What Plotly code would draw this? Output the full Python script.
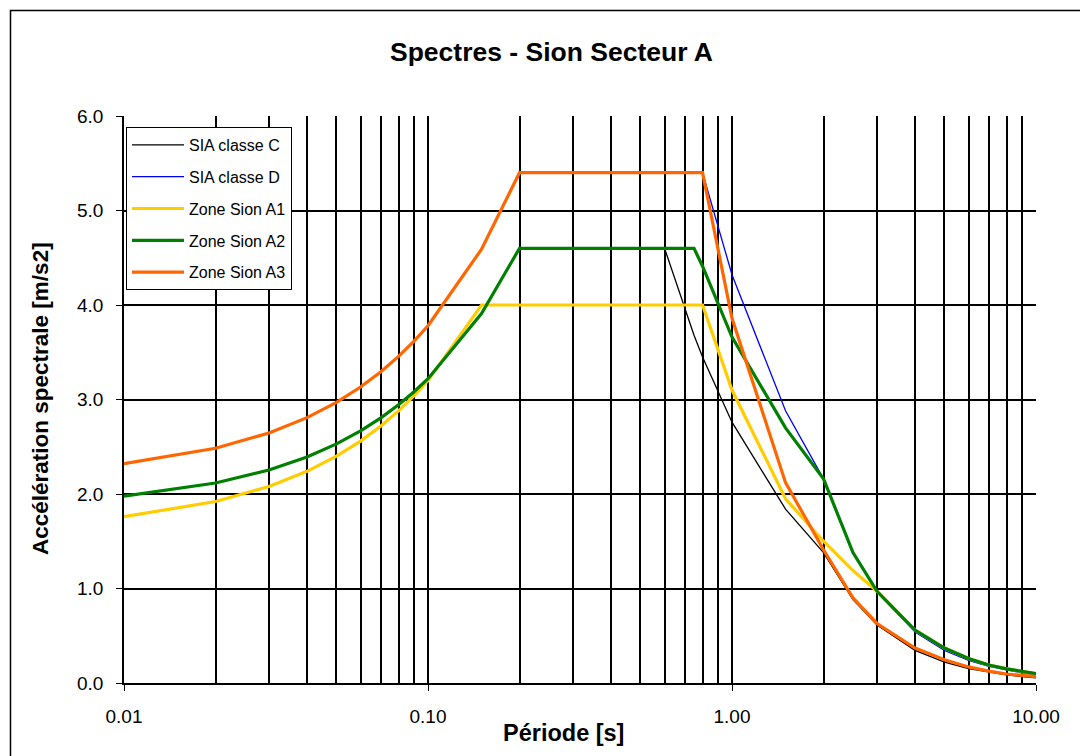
import plotly.graph_objects as go

# ---- data ----
periods = [0.01, 0.02, 0.03, 0.04, 0.05, 0.06, 0.07, 0.08, 0.09, 0.10,
           0.15, 0.20, 0.60, 0.75, 0.80, 1.0, 1.5, 2.0, 2.5, 3.0,
           4.0, 5.0, 6.0, 7.0, 8.0, 9.0, 10.0]

sia_c = [1.978, 2.116, 2.254, 2.392, 2.530, 2.668, 2.806, 2.944, 3.082, 3.220,
         3.910, 4.600, 4.600, 3.680, 3.450, 2.760, 1.840, 1.380, 0.883, 0.613,
         0.345, 0.221, 0.153, 0.113, 0.086, 0.068, 0.055]

sia_d = [2.322, 2.484, 2.646, 2.808, 2.970, 3.132, 3.294, 3.456, 3.618, 3.780,
         4.590, 5.400, 5.400, 5.400, 5.400, 4.320, 2.880, 2.160, 1.382, 0.960,
         0.540, 0.346, 0.240, 0.176, 0.135, 0.107, 0.086]

sion_a1 = [1.76, 1.92, 2.08, 2.24, 2.40, 2.56, 2.72, 2.88, 3.04, 3.20,
           4.00, 4.00, 4.00, 4.00, 4.00, 3.10, 1.95, 1.50, 1.19, 0.97,
           0.56, 0.37, 0.26, 0.19, 0.15, 0.12, 0.10]

sion_a2 = [1.978, 2.116, 2.254, 2.392, 2.530, 2.668, 2.806, 2.944, 3.082, 3.220,
           3.910, 4.600, 4.600, 4.600, 4.410, 3.660, 2.700, 2.160, 1.380, 0.970,
           0.560, 0.370, 0.260, 0.190, 0.150, 0.120, 0.100]

sion_a3 = [2.322, 2.484, 2.646, 2.808, 2.970, 3.132, 3.294, 3.456, 3.618, 3.780,
           4.590, 5.400, 5.400, 5.400, 5.400, 3.860, 2.120, 1.410, 0.900, 0.630,
           0.370, 0.245, 0.170, 0.125, 0.095, 0.080, 0.067]

series_names = ["SIA classe C", "SIA classe D", "Zone Sion A1", "Zone Sion A2", "Zone Sion A3"]
series_values = [sia_c, sia_d, sion_a1, sion_a2, sion_a3]
series_colors = ["#000000", "#0000FF", "#FFCC00", "#008000", "#FF6600"]
series_widths = [1.3, 1.3, 3.2, 3.2, 3.2]

x_major = [0.01, 0.1, 1, 10]
x_major_text = ["0.01", "0.10", "1.00", "10.00"]
x_minor = [m * d for d in [0.01, 0.1, 1] for m in range(2, 10)]

title_text = "Spectres - Sion Secteur A"
x_title = "Période [s]"
y_title = "Accélération spectrale [m/s2]"

FONT = "Liberation Sans, Arial, sans-serif"

fig = go.Figure()
for i, (name, vals, col, w) in enumerate(zip(series_names, series_values, series_colors, series_widths)):
    fig.add_trace(go.Scatter(
        x=periods, y=vals, mode="lines", name=name,
        line=dict(color=col, width=w), legendgroup=f"g{i}",
    ))

# plot area: x 124..1036, y 116..683
L, R, T, B = 124, 1036, 116, 683
W, H = 1080, 756
pw, ph = R - L, B - T

def px(xp):
    return (xp - L) / pw

def py(yp):
    return (B - yp) / ph

fig.update_layout(
    width=W, height=H,
    margin=dict(l=L, r=W - R, t=T, b=H - B),
    paper_bgcolor="white", plot_bgcolor="white",
    font=dict(family=FONT, color="black"),
    showlegend=True,
    legend=dict(
        x=px(126), y=py(127), xanchor="left", yanchor="top",
        bgcolor="white", bordercolor="black", borderwidth=1,
        font=dict(size=16, family=FONT, color="black"),
        traceorder="grouped", tracegroupgap=8, itemwidth=52,
    ),
)

fig.update_xaxes(
    type="log", range=[-2, 1],
    tickmode="array", tickvals=x_major, ticktext=x_major_text,
    ticks="outside", ticklen=6, tickcolor="black", tickwidth=1,
    tickfont=dict(size=19, family=FONT, color="black"),
    ticklabelstandoff=9,
    showgrid=True, gridcolor="black", gridwidth=1.5,
    minor=dict(tickmode="array", tickvals=x_minor, showgrid=True,
               gridcolor="black", gridwidth=1.5, ticks=""),
    showline=True, linecolor="black", linewidth=2, mirror=False,
    zeroline=False,
)
fig.update_yaxes(
    range=[0, 6], tickmode="linear", tick0=0, dtick=1, tickformat=".1f",
    ticks="outside", ticklen=6, tickcolor="black", tickwidth=1,
    tickfont=dict(size=19, family=FONT, color="black"),
    ticklabelstandoff=9,
    showgrid=True, gridcolor="black", gridwidth=1.5,
    showline=True, linecolor="black", linewidth=1.5,
    zeroline=False,
)

# titles as annotations
fig.add_annotation(text=f"<b>{title_text}</b>", x=px(551), y=py(52),
                   xref="paper", yref="paper", showarrow=False,
                   xanchor="center", yanchor="middle",
                   font=dict(size=26.5, family=FONT, color="black"))
fig.add_annotation(text=f"<b>{x_title}</b>", x=px(563), y=py(733),
                   xref="paper", yref="paper", showarrow=False,
                   xanchor="center", yanchor="middle",
                   font=dict(size=23.5, family=FONT, color="black"))
fig.add_annotation(text=f"<b>{y_title}</b>", x=px(40), y=py(399),
                   xref="paper", yref="paper", showarrow=False,
                   xanchor="center", yanchor="middle", textangle=-90,
                   font=dict(size=22.5, family=FONT, color="black"))

# outer chart border
fig.add_shape(type="rect", xref="paper", yref="paper",
              x0=px(10.5), x1=px(1200), y0=py(900), y1=py(10.5),
              line=dict(color="black", width=1.5), fillcolor="rgba(0,0,0,0)",
              layer="below")

fig.write_html("out.html",
               config={"displayModeBar": False},
               post_script="document.body.style.margin='0';document.body.style.overflow='hidden';")
